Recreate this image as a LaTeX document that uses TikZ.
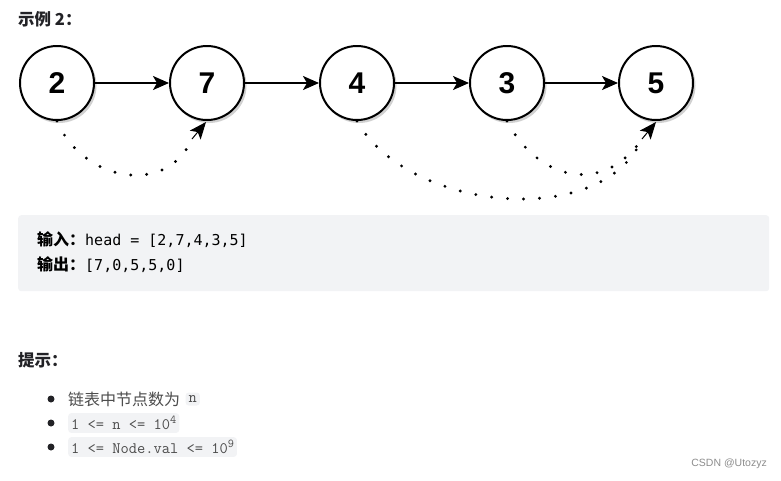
\documentclass[tikz,border=0pt]{standalone}
\usepackage{fontspec}
\usetikzlibrary{arrows.meta}
\setmainfont{Liberation Sans}
\newfontfamily\cjk{Noto Sans CJK SC}
\newfontfamily\numfont{Liberation Sans}
\newfontfamily\monoA{DejaVu Sans Mono}
\newfontfamily\monoB{Latin Modern Mono}
\definecolor{boxbg}{HTML}{F2F3F5}
\definecolor{codebg}{HTML}{F2F3F5}
\definecolor{txt}{HTML}{222226}
\definecolor{hint}{HTML}{4D4D4D}
\newcommand{\supx}[1]{\raisebox{6pt}{\fontsize{12}{12}\selectfont #1}}
\tikzset{
  lnode/.style={circle, draw=black, line width=2pt, fill=white, minimum size=74pt, inner sep=0pt,
    font=\numfont\bfseries\fontsize{30}{30}\selectfont},
  lshadow/.style={circle, fill=black!18, minimum size=75pt, inner sep=0pt, draw=none},
  link/.style={line width=2pt, -{Stealth[length=16pt,width=14pt,inset=4pt]}},
  jump/.style={line width=3.2pt, line cap=round, dash pattern=on 0pt off 16pt},
  jumptip/.style={line width=1pt, -{Stealth[length=17pt,width=14pt,inset=4pt]}},
  codechip/.style={fill=codebg, rounded corners=3pt, inner xsep=3pt, inner ysep=3pt, anchor=west,
    text=hint, font=\monoB\fontsize{16}{16}\selectfont},
  bul/.style={circle, fill=txt, inner sep=0pt, minimum size=7pt},
}
\begin{document}
\begin{tikzpicture}[x=1pt,y=-1pt]
\useasboundingbox (0,0) rectangle (781,480);
\node[anchor=west, text=txt, inner sep=0pt, font=\cjk\bfseries\fontsize{16.5}{16.5}\selectfont] (title) at (18,19) {示例 2：};
% shadows
\foreach \x in {57,207,357,507,656} {
  \node[lshadow] at (\x+2,85.5) {};
}
\node[lnode] (n2) at (57,83) {2};
\node[lnode] (n7) at (207,83) {7};
\node[lnode] (n4) at (357,83) {4};
\node[lnode] (n3) at (507,83) {3};
\node[lnode] (n5) at (656,83) {5};
\draw[link] (n2) -- (n7);
\draw[link] (n7) -- (n4);
\draw[link] (n4) -- (n3);
\draw[link] (n3) -- (n5);
% dotted jumps
\coordinate (e7) at (192,139);
\coordinate (t7) at (206,122);
\coordinate (e5) at (642,139);
\coordinate (t5) at (656,122);
\draw[jump] (n2.south) .. controls +(25,60) and +(-25,58) .. (e7);
\draw[jumptip] (e7) -- (t7);
\draw[jump] (n4.south) .. controls +(50,90) and +(-40,92) .. (e5);
\draw[jump] (n3.south) .. controls +(30,58) and +(-40,58) .. (e5);
\draw[jumptip] (e5) -- (t5);
% example box
\node[fill=boxbg, rounded corners=3pt, minimum width=751pt, minimum height=76pt, anchor=north west, inner sep=0pt] (box) at (18,215) {};
\node[anchor=west, text=black, inner sep=0pt] (in) at (37,240) {{\cjk\bfseries\fontsize{16}{16}\selectfont 输入：}{\monoA\fontsize{15}{15}\selectfont head = [2,7,4,3,5]}};
\node[anchor=west, text=black, inner sep=0pt] (out) at (37,265) {{\cjk\bfseries\fontsize{16}{16}\selectfont 输出：}{\monoA\fontsize{15}{15}\selectfont [7,0,5,5,0]}};
% hints
\node[anchor=west, text=txt, inner sep=0pt, font=\cjk\bfseries\fontsize{16.5}{16.5}\selectfont] (tip) at (18,360) {提示：};
\node[bul] (b1) at (51,399) {};
\node[bul] (b2) at (51,423) {};
\node[bul] (b3) at (51,447) {};
\node[anchor=west, inner sep=0pt, text=hint, font=\cjk\fontsize{16}{16}\selectfont] (h1) at (68,399) {链表中节点数为};
\node[codechip] (c1) at (h1.east) [xshift=5pt] {n};
\node[codechip] (c2) at (68,423) {1 <= n <= 10\supx{4}};
\node[codechip] (c3) at (68,447) {1 <= Node.val <= 10\supx{9}};
\node[anchor=east, inner sep=0pt, text=black!45, font=\fontsize{10.5}{10.5}\selectfont] (wm) at (767,464) {CSDN @Utozyz};
\end{tikzpicture}
\end{document}
